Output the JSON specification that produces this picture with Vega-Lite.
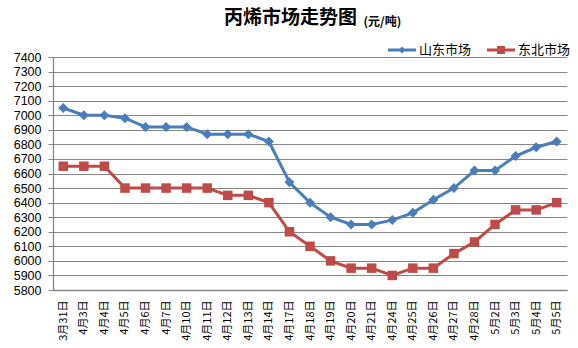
{
  "$schema": "https://vega.github.io/schema/vega-lite/v6.json",
  "autosize": "none",
  "width": 514,
  "height": 233,
  "padding": {"left": 53, "top": 57, "right": 11, "bottom": 58},
  "background": "white",
  "title": {
    "text": "丙烯市场走势图",
    "anchor": "start",
    "frame": "group",
    "dx": 171,
    "offset": -13,
    "font": "Noto Sans CJK SC",
    "fontSize": 19,
    "fontWeight": "bold",
    "color": "#000000"
  },
  "config": {
    "view": {"stroke": null},
    "font": "Liberation Sans"
  },
  "data": {
    "values": [
      {"date": "3月31日", "market": "山东市场", "price": 7050},
      {"date": "4月3日", "market": "山东市场", "price": 7000},
      {"date": "4月4日", "market": "山东市场", "price": 7000},
      {"date": "4月5日", "market": "山东市场", "price": 6980},
      {"date": "4月6日", "market": "山东市场", "price": 6920},
      {"date": "4月7日", "market": "山东市场", "price": 6920},
      {"date": "4月10日", "market": "山东市场", "price": 6920},
      {"date": "4月11日", "market": "山东市场", "price": 6870},
      {"date": "4月12日", "market": "山东市场", "price": 6870},
      {"date": "4月13日", "market": "山东市场", "price": 6870},
      {"date": "4月14日", "market": "山东市场", "price": 6820},
      {"date": "4月17日", "market": "山东市场", "price": 6540},
      {"date": "4月18日", "market": "山东市场", "price": 6400},
      {"date": "4月19日", "market": "山东市场", "price": 6300},
      {"date": "4月20日", "market": "山东市场", "price": 6250},
      {"date": "4月21日", "market": "山东市场", "price": 6250},
      {"date": "4月24日", "market": "山东市场", "price": 6280},
      {"date": "4月25日", "market": "山东市场", "price": 6330},
      {"date": "4月26日", "market": "山东市场", "price": 6420},
      {"date": "4月27日", "market": "山东市场", "price": 6500},
      {"date": "4月28日", "market": "山东市场", "price": 6620},
      {"date": "5月2日", "market": "山东市场", "price": 6620},
      {"date": "5月3日", "market": "山东市场", "price": 6720},
      {"date": "5月4日", "market": "山东市场", "price": 6780},
      {"date": "5月5日", "market": "山东市场", "price": 6820},
      {"date": "3月31日", "market": "东北市场", "price": 6650},
      {"date": "4月3日", "market": "东北市场", "price": 6650},
      {"date": "4月4日", "market": "东北市场", "price": 6650},
      {"date": "4月5日", "market": "东北市场", "price": 6500},
      {"date": "4月6日", "market": "东北市场", "price": 6500},
      {"date": "4月7日", "market": "东北市场", "price": 6500},
      {"date": "4月10日", "market": "东北市场", "price": 6500},
      {"date": "4月11日", "market": "东北市场", "price": 6500},
      {"date": "4月12日", "market": "东北市场", "price": 6450},
      {"date": "4月13日", "market": "东北市场", "price": 6450},
      {"date": "4月14日", "market": "东北市场", "price": 6400},
      {"date": "4月17日", "market": "东北市场", "price": 6200},
      {"date": "4月18日", "market": "东北市场", "price": 6100},
      {"date": "4月19日", "market": "东北市场", "price": 6000},
      {"date": "4月20日", "market": "东北市场", "price": 5950},
      {"date": "4月21日", "market": "东北市场", "price": 5950},
      {"date": "4月24日", "market": "东北市场", "price": 5900},
      {"date": "4月25日", "market": "东北市场", "price": 5950},
      {"date": "4月26日", "market": "东北市场", "price": 5950},
      {"date": "4月27日", "market": "东北市场", "price": 6050},
      {"date": "4月28日", "market": "东北市场", "price": 6130},
      {"date": "5月2日", "market": "东北市场", "price": 6250},
      {"date": "5月3日", "market": "东北市场", "price": 6350},
      {"date": "5月4日", "market": "东北市场", "price": 6350},
      {"date": "5月5日", "market": "东北市场", "price": 6400}
    ]
  },
  "encoding": {
    "x": {
      "field": "date",
      "type": "ordinal",
      "sort": null,
      "scale": {"type": "point", "padding": 0.5},
      "axis": {
        "title": null,
        "labelAngle": -90,
        "labelAlign": "right",
        "labelBaseline": "middle",
        "labelFont": "Noto Sans CJK SC",
        "labelFontSize": 11,
        "labelColor": "#000000",
        "labelPadding": 10,
        "ticks": false,
        "grid": false,
        "domainColor": "#868686",
        "domainWidth": 1.3
      }
    },
    "y": {
      "field": "price",
      "type": "quantitative",
      "scale": {"domain": [5800, 7400], "nice": false, "zero": false},
      "axis": {
        "title": "(元/吨)",
        "titleAngle": 0,
        "titleX": 310,
        "titleY": -36,
        "titleAlign": "left",
        "titleBaseline": "middle",
        "titleFont": "Noto Sans CJK SC",
        "titleFontSize": 12,
        "titleFontWeight": "bold",
        "titleColor": "#000000",
        "values": [5800, 5900, 6000, 6100, 6200, 6300, 6400, 6500, 6600, 6700, 6800, 6900, 7000, 7100, 7200, 7300, 7400],
        "format": "d",
        "labelFontSize": 12.5,
        "labelColor": "#000000",
        "labelPadding": 7,
        "tickSize": 5,
        "tickColor": "#868686",
        "domainColor": "#868686",
        "domainWidth": 1.3,
        "gridColor": "#868686",
        "gridWidth": 1
      }
    },
    "color": {
      "field": "market",
      "type": "nominal",
      "sort": ["山东市场", "东北市场"],
      "scale": {"domain": ["山东市场", "东北市场"], "range": ["#4A7EBB", "#BE4B48"]},
      "legend": {
        "title": null,
        "orient": "none",
        "direction": "horizontal",
        "legendX": 335,
        "legendY": -21,
        "labelFont": "Noto Sans CJK SC",
        "labelFontSize": 13,
        "labelColor": "#000000",
        "labelOffset": 3,
        "columnPadding": 15,
        "symbolSize": 784,
        "encoding": {
          "symbols": {
            "shape": {
              "condition": {"test": "datum.value === '山东市场'", "value": "M-1,-0.1H1V0.1H-1Z M0,-0.25L0.25,0L0,0.25L-0.25,0Z"},
              "value": "M-1,-0.1H1V0.1H-1Z M-0.28,-0.28H0.28V0.28H-0.28Z"
            },
            "fill": {
              "condition": {"test": "datum.value === '山东市场'", "value": "#4A7EBB"},
              "value": "#BE4B48"
            },
            "strokeWidth": {"value": 0},
            "opacity": {"value": 1}
          }
        }
      }
    }
  },
  "layer": [
    {
      "mark": {"type": "line", "strokeWidth": 3}
    },
    {
      "mark": {"type": "point", "filled": true, "opacity": 1},
      "encoding": {
        "shape": {
          "condition": {"test": "datum.market === '山东市场'", "value": "diamond"},
          "value": "square"
        },
        "size": {
          "condition": {"test": "datum.market === '山东市场'", "value": 100},
          "value": 90
        }
      }
    }
  ]
}
